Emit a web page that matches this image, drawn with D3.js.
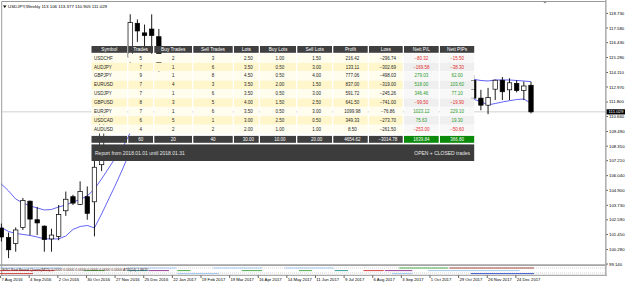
<!DOCTYPE html>
<html lang="en">
<head>
    <meta charset="UTF-8">
    <title>USDJPY Weekly</title>
    <script src="https://d3js.org/d3.v7.min.js"></script>
    <style>
        body { margin: 0; background: #fff; }
        text { font-family: 'Liberation Sans', Arial, sans-serif; }
    </style>
</head>
<body>
<script>

    const width  = 625;
    const height = 284;

    // weekly candles, week 0 = 7 Aug 2016
    const candleWeek = [0, 1, 2, 3, 4, 5, 6, 7, 8, 9, 10, 11, 12, 13, 14, 18, 19, 20, 21, 22,
                        66, 67, 68, 69, 70, 71, 72, 73, 74];
    const opens  = [101.95, 101.2, 100.75, 102.0, 104.05, 102.6, 102.1, 101.1, 101.3, 103.3, 104.4, 103.8, 104.4, 104.0, 106.9, 115.3, 117.95, 117.2, 117.5, 116.9,
                    113.5, 112.1, 111.55, 112.8, 113.5, 112.75, 113.25, 112.7, 113.106];
    const highs  = [102.3, 101.6, 102.0, 104.3, 104.1, 103.6, 102.15, 101.9, 103.75, 104.8, 104.55, 105.6, 105.2, 107.4, 111.0, 118.65, 118.25, 117.85, 118.65, 117.5,
                    113.9, 112.75, 112.9, 113.55, 113.75, 113.65, 113.5, 113.4, 113.377];
    const lows   = [100.9, 99.6, 100.1, 101.8, 101.4, 101.4, 100.1, 100.1, 101.0, 102.9, 103.75, 103.75, 102.6, 101.3, 106.4, 114.8, 116.5, 116.0, 115.1, 113.6,
                    112.0, 111.15, 110.85, 111.95, 111.95, 111.95, 112.55, 111.95, 110.905];
    const closes = [101.25, 100.25, 101.8, 104.1, 102.65, 102.35, 101.05, 101.4, 103.0, 104.2, 103.9, 104.8, 103.1, 106.7, 110.9, 118.0, 117.35, 117.0, 117.0, 114.5,
                    112.1, 111.55, 112.15, 113.5, 112.6, 113.3, 112.7, 113.05, 111.029];

    // band lines
    const bandWeekL = [0, 1, 2, 3, 4, 5, 6, 7, 8, 9, 10, 11, 12, 13, 14, 15, 16, 17, 18];
    const upperL = [105.39, 104.85, 104.22, 103.91, 103.68, 103.52, 103.36, 103.40, 103.60, 103.75, 103.99, 104.18, 104.46, 105.00, 105.79, 106.64, 107.50, 108.29, 109.4];
    const lowerL = [101.99, 101.68, 101.53, 101.45, 101.37, 101.25, 101.10, 101.10, 101.10, 101.33, 101.84, 102.07, 102.15, 101.96, 103.05, 104.22, 105.39, 106.64, 108.0];
    const bandWeekR = [66, 67, 68, 69, 70, 71, 72, 73, 74];
    const upperR = [113.57, 113.48, 113.44, 113.52, 113.52, 113.52, 113.48, 113.44, 113.39];
    const lowerR = [112.01, 111.82, 111.57, 111.68, 111.80, 111.90, 111.99, 112.03, 111.70];

    const lastPrice = 111.029;
    const priceTicks = ['118.730', '117.580', '116.430', '115.280', '114.110', '112.970', '111.800', '110.660', '109.490',
                        '108.350', '107.210', '106.040', '104.900', '103.730', '102.590', '101.450', '100.280', '99.140'];
    const dateLabels = ['7 Aug 2016', '4 Sep 2016', '2 Oct 2016', '30 Oct 2016', '27 Nov 2016', '25 Dec 2016', '22 Jan 2017',
                        '19 Feb 2017', '19 Mar 2017', '16 Apr 2017', '14 May 2017', '11 Jun 2017', '9 Jul 2017', '6 Aug 2017',
                        '3 Sep 2017', '1 Oct 2017', '29 Oct 2017', '26 Nov 2017', '24 Dec 2017'];

    // indicator window signal runs: [fromWeek, toWeek, state]
    const signalRowA = [[0, 8, 1], [18, 24, 1], [30, 36, 1], [40, 46, 1], [56, 62, 2], [63, 74, 7]];
    const signalRowB = [[0, 7, 3], [12, 14, 2], [18, 20, 5], [21, 23, 4], [25, 26, 2], [34, 36, 2], [42, 43, 2],
                        [47, 48, 5], [51, 53, 3], [54, 57, 4], [60, 72, 1]];
    const signalRowC = [[0, 4, 3], [25, 30, 1], [55, 57, 1], [66, 74, 6]];

    // report table
    const headers    = ['Symbol', 'Trades', 'Buy Trades', 'Sell Trades', 'Lots', 'Buy Lots', 'Sell Lots', 'Profit', 'Loss', 'Nett P/L', 'Nett PIPs'];
    const symbols    = ['USDCHF', 'AUDJPY', 'GBPJPY', 'EURUSD', 'USDJPY', 'GBPUSD', 'EURJPY', 'USDCAD', 'AUDUSD'];
    const trades     = [5, 7, 9, 7, 7, 8, 7, 6, 4];
    const buyTrades  = [2, 1, 1, 4, 1, 3, 1, 5, 2];
    const sellTrades = [3, 6, 8, 3, 6, 5, 6, 1, 2];
    const lots       = [2.50, 3.50, 4.50, 3.50, 3.50, 4.00, 3.50, 3.00, 2.00];
    const buyLots    = [1.00, 0.50, 0.50, 2.00, 0.50, 1.50, 0.50, 2.50, 1.00];
    const sellLots   = [1.50, 3.00, 4.00, 1.50, 3.00, 2.50, 3.00, 0.50, 1.00];
    const profit     = [216.42, 133.11, 777.06, 837.00, 591.72, 641.50, 1099.98, 349.33, 8.50];
    const loss       = [-296.74, -302.69, -498.03, -319.00, -245.26, -741.00, -76.86, -273.70, -261.50];
    const nettPL     = [-80.32, -169.58, 279.03, 518.00, 346.46, -99.50, 1023.12, 75.63, -253.00];
    const nettPips   = [-15.50, -38.30, 62.00, 103.60, 77.10, -19.90, 229.10, 19.30, -50.60];
    const reportText = 'Report from 2018.01.01 until 2018.01.31';
    const modeText   = 'OPEN + CLOSED trades';

    const x = d3.scaleLinear().domain([0, 74]).range([1.4, 531]);
    const y = d3.scaleLinear().domain([99.14, 118.73]).range([264, 13.3]);

    const svg = d3.select("body")
            .append("svg")
            .attr("width", width)
            .attr("height", height);

    svg.append("rect").attr("width", width).attr("height", height).attr("fill", "#fff");

    // frame
    svg.append("line").attr("x1", 1.7).attr("x2", 1.7).attr("y1", 1.5).attr("y2", 276)
            .attr("stroke", "#9a9a9a").attr("stroke-width", 1);
    svg.append("line").attr("x1", 1.7).attr("x2", 606).attr("y1", 1.5).attr("y2", 1.5)
            .attr("stroke", "#9a9a9a").attr("stroke-width", 1);
    svg.append("path").attr("d", "M543,1.5L547,1.5L545,3.5Z").attr("fill", "#888");

    // last price line
    svg.append("line")
            .attr("x1", 2).attr("x2", 606)
            .attr("y1", y(lastPrice)).attr("y2", y(lastPrice))
            .attr("stroke", "#c4c4c4").attr("stroke-width", 0.8);

    // bands
    const line = d3.line().x(d => x(d[0])).y(d => y(d[1]));
    [[bandWeekL, upperL], [bandWeekL, lowerL], [bandWeekR, upperR], [bandWeekR, lowerR]].forEach(b => {
        svg.append("path")
                .attr("d", line(b[0].map((w, i) => [w, b[1][i]])))
                .attr("fill", "none")
                .attr("stroke", "#3b3bf2")
                .attr("stroke-width", 0.8);
    });

    // candles
    const bodyW = 4.4;
    const candles = svg.append("g");
    candleWeek.forEach((w, i) => {
        const up = closes[i] >= opens[i];
        candles.append("line")
                .attr("x1", x(w)).attr("x2", x(w))
                .attr("y1", y(highs[i])).attr("y2", y(lows[i]))
                .attr("stroke", "#000").attr("stroke-width", 0.9);
        const top = y(Math.max(opens[i], closes[i]));
        const bot = y(Math.min(opens[i], closes[i]));
        candles.append("rect")
                .attr("x", x(w) - bodyW / 2).attr("y", top)
                .attr("width", bodyW).attr("height", Math.max(0.8, bot - top))
                .attr("fill", up ? "#fff" : "#000")
                .attr("stroke", "#000").attr("stroke-width", 0.7);
    });

    // title
    svg.append("path").attr("d", "M3,5.5L6.5,5.5L4.75,8Z").attr("fill", "#000");
    svg.append("text")
            .text("USDJPY,Weekly  113.106 113.377 110.905 111.029")
            .attr("x", 8).attr("y", 8.3)
            .attr("font-size", 4.4).attr("fill", "#000");

    // indicator window
    svg.append("rect").attr("x", 0).attr("y", 264.3).attr("width", 607).attr("height", 1.6).attr("fill", "#9d9d9d");
    [268, 273].forEach(v => {
        svg.append("line").attr("x1", 2).attr("x2", 606).attr("y1", v).attr("y2", v)
                .attr("stroke", "#b5b5b5").attr("stroke-width", 0.6).attr("stroke-dasharray", "1,1");
    });
    const stateColor = d3.scaleOrdinal()
            .domain([1, 2, 3, 4, 5, 6, 7])
            .range(["#9cc3ee", "#3aa53a", "#d12b2b", "#8a2a8a", "#1f8f8f", "#2a45c8", "#9a3b2b"]);
    [[signalRowA, 268], [signalRowB, 270.6], [signalRowC, 273.6]].forEach(r => {
        r[0].forEach(s => {
            svg.append("line")
                    .attr("x1", x(s[0]) - 3).attr("x2", x(s[1]) + 3)
                    .attr("y1", r[1]).attr("y2", r[1])
                    .attr("stroke", stateColor(s[2])).attr("stroke-width", 0.9);
        });
    });
    svg.append("text")
            .text("EXO Red Boxed-Queen(M15) 0.0000 0.0000 0.0000 0.0000 0.0000 0.0000 ATR(14) 1.8670")
            .attr("x", 2.5).attr("y", 271.3)
            .attr("font-size", 3.6).attr("fill", "#3a1010");
    svg.append("line").attr("x1", 1.7).attr("x2", 607).attr("y1", 275.3).attr("y2", 275.3)
            .attr("stroke", "#7a7a7a").attr("stroke-width", 0.8);

    // right axis
    svg.append("rect").attr("x", 605).attr("y", 0).attr("width", 1.6).attr("height", 276).attr("fill", "#b0b0b0");
    const yAxis = svg.append("g");
    priceTicks.forEach(p => {
        const yy = y(+p);
        yAxis.append("rect").attr("x", 606.6).attr("y", yy - 0.4).attr("width", 1.2).attr("height", 0.8).attr("fill", "#000");
        yAxis.append("text").text(p)
                .attr("x", 609).attr("y", yy + 1.5)
                .attr("font-size", 4.3).attr("fill", "#000");
    });
    svg.append("rect").attr("x", 606.6).attr("y", y(lastPrice) - 2.6).attr("width", 18.4).attr("height", 5.2).attr("fill", "#000");
    svg.append("text").text(d3.format(".3f")(lastPrice))
            .attr("x", 608.5).attr("y", y(lastPrice) + 1.5)
            .attr("font-size", 4.3).attr("fill", "#fff");

    // date axis
    dateLabels.forEach((d, i) => {
        const xx = x(i * 4);
        svg.append("line").attr("x1", xx - 0.8).attr("x2", xx - 0.8).attr("y1", 275.5).attr("y2", 278)
                .attr("stroke", "#000").attr("stroke-width", 0.6);
        svg.append("text").text(d)
                .attr("x", xx).attr("y", 281.2)
                .attr("font-size", 4.2).attr("fill", "#000");
    });

    // report table
    const colEdges = [91.5, 128.3, 154.3, 193.3, 234, 260, 297.3, 333.3, 369, 404, 440, 475.5];
    const gap = 1.3;
    const headerTop = 46, headerH = 6.8;
    const rowTop = 53.8, rowH = 8.9;
    const totalTop = 135.9, totalH = 6.9;
    const table = svg.append("g");
    const fmt2 = d3.format(".2f");

    function cell(j, top, h, fill, label, color, size, anchor, shift) {
        const x0 = colEdges[j], x1 = colEdges[j + 1] - gap;
        table.append("rect").attr("x", x0).attr("y", top).attr("width", x1 - x0).attr("height", h).attr("fill", fill);
        if (label === "") return;
        table.append("text").text(label)
                .attr("x", anchor === "start" ? x0 + 2.5 : (x0 + x1) / 2 + shift)
                .attr("y", top + h / 2 + size * 0.36)
                .attr("text-anchor", anchor === "start" ? "start" : "middle")
                .attr("font-size", size).attr("fill", color);
    }

    headers.forEach((h, j) => cell(j, headerTop, headerH, "#3f3f3f", h, "#fff", 4.8, "middle", 0));

    const rowCols = [symbols, trades, buyTrades, sellTrades, lots, buyLots, sellLots, profit, loss, nettPL, nettPips];
    symbols.forEach((s, i) => {
        const top = rowTop + i * rowH;
        rowCols.forEach((col, j) => {
            const v = col[i];
            let label = j === 0 ? v : (j <= 3 ? String(v) : fmt2(v));
            let bg = j >= 9 ? (i % 2 ? "#efefef" : "#f8f8f8") : (i % 2 ? "#fff6cc" : "#fffdee");
            let color = "#1e1e1e";
            if (j >= 9) color = v < 0 ? "#e52a2a" : "#2d9a2d";
            cell(j, top, rowH - 0.4, bg, label, color, 4.5, j === 0 ? "start" : "middle", j >= 4 && j <= 8 ? 2 : 0);
        });
    });

    rowCols.forEach((col, j) => {
        if (j === 0) { cell(j, totalTop, totalH, "#3f3f3f", "", "#fff", 4.5, "middle", 0); return; }
        const sum = d3.sum(col);
        const label = j <= 3 ? String(sum) : fmt2(sum);
        cell(j, totalTop, totalH, j >= 9 ? "#0b8a0b" : "#3f3f3f", label, "#fff", 4.5, "middle", j >= 4 && j <= 8 ? 2 : 0);
    });

    table.append("rect")
            .attr("x", colEdges[0]).attr("y", 144.4)
            .attr("width", colEdges[colEdges.length - 1] - colEdges[0] - gap).attr("height", 16.6)
            .attr("fill", "#3c3c3c");
    table.append("text").text(reportText)
            .attr("x", 95).attr("y", 154.5)
            .attr("font-size", 5).attr("fill", "#e6e6e6");
    table.append("text").text(modeText)
            .attr("x", 470).attr("y", 154.5).attr("text-anchor", "end")
            .attr("font-size", 5).attr("fill", "#e6e6e6");

</script>
</body>
</html>
